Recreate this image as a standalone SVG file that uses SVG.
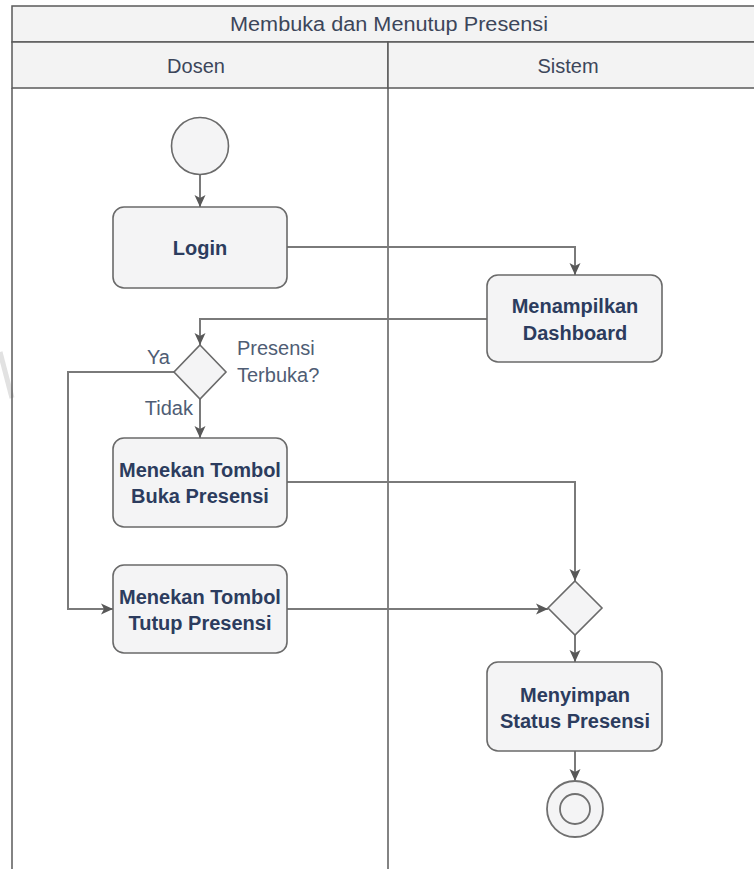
<svg xmlns="http://www.w3.org/2000/svg" width="754" height="869" viewBox="0 0 754 869">
  <style>
    .frame { fill: none; stroke: #5a5a5a; stroke-width: 1.5; }
    .hdr { fill: #f3f3f3; stroke: #5a5a5a; stroke-width: 1.5; }
    .hdrtext { font-family: "Liberation Sans", Arial, sans-serif; font-size: 20px; fill: #3c465a; text-anchor: middle; }
    .node { fill: #f4f4f5; stroke: #6a6a6a; stroke-width: 1.6; }
    .ntext { font-family: "Liberation Sans", Arial, sans-serif; font-size: 20px; font-weight: bold; fill: #2c3c5e; text-anchor: middle; }
    .label { font-family: "Liberation Sans", Arial, sans-serif; font-size: 20px; fill: #4f5d74; }
    .edge { fill: none; stroke: #7a7a7a; stroke-width: 2; }
  </style>
  <defs>
    <marker id="arrow" viewBox="0 0 12 12" refX="12" refY="6" markerWidth="12" markerHeight="12" markerUnits="userSpaceOnUse" orient="auto">
      <path d="M0,0.5 L12,6 L0,11.5 L3,6 Z" fill="#585858"/>
    </marker>
  </defs>

  <rect width="754" height="869" fill="#ffffff"/>

  <!-- faint stroke at the left margin -->
  <line x1="0" y1="352" x2="12" y2="398" stroke="#e2e2e2" stroke-width="5"/>

  <!-- swimlane frame -->
  <g id="pool">
    <rect class="hdr" x="12" y="6" width="750" height="36"/>
    <rect class="hdr" x="12" y="42" width="376" height="46"/>
    <rect class="hdr" x="388" y="42" width="374" height="46"/>
    <line class="frame" x1="12" y1="88" x2="12" y2="869"/>
    <line class="frame" x1="388" y1="88" x2="388" y2="869"/>
    <text class="hdrtext" x="389" y="31" textLength="318" lengthAdjust="spacingAndGlyphs">Membuka dan Menutup Presensi</text>
    <text class="hdrtext" x="196" y="73">Dosen</text>
    <text class="hdrtext" x="568" y="73">Sistem</text>
  </g>

  <!-- connectors -->
  <g id="connectors">
    <path class="edge" d="M200,175 V207" marker-end="url(#arrow)"/>
    <path class="edge" d="M287,247 H575 V275" marker-end="url(#arrow)"/>
    <path class="edge" d="M487,319 H200 V345" marker-end="url(#arrow)"/>
    <path class="edge" d="M200,399 V438" marker-end="url(#arrow)"/>
    <path class="edge" d="M175,372 H68 V609 H113" marker-end="url(#arrow)"/>
    <path class="edge" d="M287,482 H575 V581" marker-end="url(#arrow)"/>
    <path class="edge" d="M287,609 H548" marker-end="url(#arrow)"/>
    <path class="edge" d="M575,635 V662" marker-end="url(#arrow)"/>
    <path class="edge" d="M575,751 V781" marker-end="url(#arrow)"/>
  </g>

  <!-- edge labels -->
  <g id="labels">
    <text class="label" x="147" y="364">Ya</text>
    <text class="label" x="193" y="415" text-anchor="end">Tidak</text>
  </g>

  <g id="start">
    <circle cx="200" cy="146" r="28.5" fill="#f4f4f5" stroke="#6a6a6a" stroke-width="1.6"/>
  </g>

  <g id="login">
    <rect class="node" x="113" y="207" width="174" height="81" rx="11"/>
    <text class="ntext" x="200" y="255">Login</text>
  </g>

  <g id="dashboard">
    <rect class="node" x="487" y="275" width="175" height="87" rx="11"/>
    <text class="ntext" x="575" y="313">Menampilkan</text>
    <text class="ntext" x="575" y="340">Dashboard</text>
  </g>

  <g id="decision">
    <polygon class="node" points="200,345 226,372 200,399 174,372"/>
    <text class="label" x="237" y="355">Presensi</text>
    <text class="label" x="237" y="382">Terbuka?</text>
  </g>

  <g id="buka">
    <rect class="node" x="113" y="438" width="174" height="89" rx="11"/>
    <text class="ntext" x="200" y="477">Menekan Tombol</text>
    <text class="ntext" x="200" y="503">Buka Presensi</text>
  </g>

  <g id="tutup">
    <rect class="node" x="113" y="565" width="174" height="88" rx="11"/>
    <text class="ntext" x="200" y="604">Menekan Tombol</text>
    <text class="ntext" x="200" y="630">Tutup Presensi</text>
  </g>

  <g id="merge">
    <polygon class="node" points="575,581 602,608 575,635 548,608"/>
  </g>

  <g id="simpan">
    <rect class="node" x="487" y="662" width="175" height="89" rx="11"/>
    <text class="ntext" x="575" y="702">Menyimpan</text>
    <text class="ntext" x="575" y="728">Status Presensi</text>
  </g>

  <g id="end">
    <circle cx="575" cy="809" r="28" fill="#f4f4f5" stroke="#707070" stroke-width="1.8"/>
    <circle cx="575" cy="809" r="15" fill="#f4f4f5" stroke="#707070" stroke-width="1.8"/>
  </g>
</svg>
